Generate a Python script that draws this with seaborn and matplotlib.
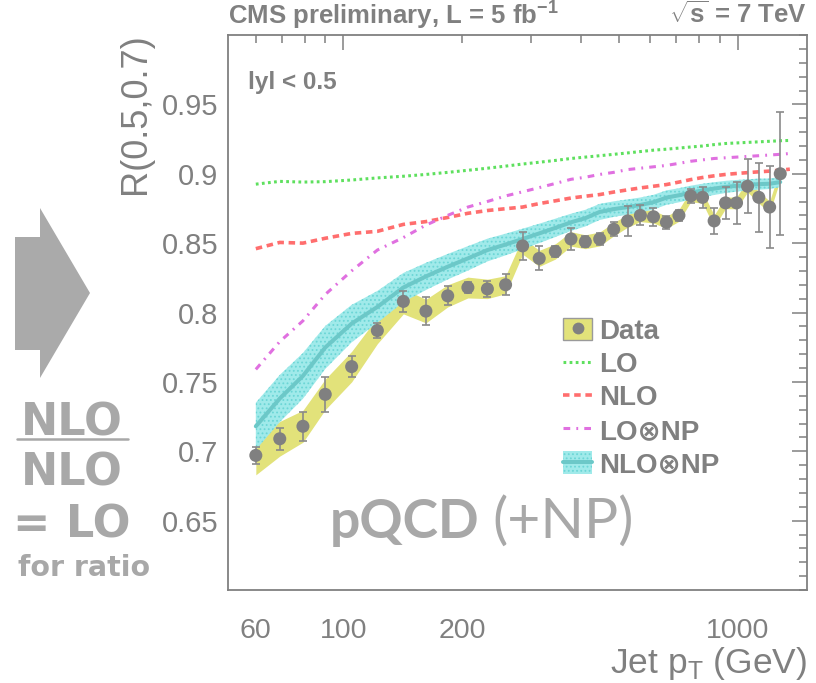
import numpy as np
import matplotlib
matplotlib.use("Agg")
import matplotlib.pyplot as plt
import seaborn as sns
from matplotlib.ticker import FixedLocator, FixedFormatter, MultipleLocator, FuncFormatter
from matplotlib.patches import Polygon, Patch
from matplotlib.lines import Line2D
from matplotlib.legend_handler import HandlerTuple

# Jet pT bin centres (GeV) and measured R(0.5,0.7), |y| < 0.5
pt = [60, 69, 79, 90, 105, 122, 142, 162, 184, 207, 232, 258, 285, 314, 345,
      378, 411, 447, 485, 526, 567, 612, 660, 710, 761, 815, 872, 932, 994,
      1060, 1132, 1206, 1283]
ratio = [0.697, 0.709, 0.718, 0.741, 0.761, 0.787, 0.808, 0.801, 0.812, 0.818,
         0.817, 0.820, 0.848, 0.839, 0.844, 0.853, 0.851, 0.853, 0.860, 0.866,
         0.870, 0.869, 0.865, 0.870, 0.884, 0.883, 0.866, 0.879, 0.879, 0.891,
         0.883, 0.876, 0.900]
stat_err = [0.0063, 0.0078, 0.0105, 0.0127, 0.0078, 0.0054, 0.0075, 0.0099,
            0.0068, 0.004, 0.006, 0.0075, 0.0099, 0.0087, 0.004, 0.008, 0.004,
            0.004, 0.005, 0.0108, 0.0072, 0.0063, 0.0045, 0.004, 0.0051, 0.0075,
            0.0093, 0.0118, 0.0152, 0.0195, 0.025, 0.0295, 0.0443]
syst_err = [0.014, 0.0125, 0.0115, 0.011, 0.011, 0.0095, 0.009, 0.0085, 0.008,
            0.0075, 0.007, 0.0065, 0.006, 0.0058, 0.0055, 0.0052, 0.005, 0.005,
            0.0048, 0.0046, 0.0045, 0.0045, 0.0044, 0.0043, 0.0042, 0.0042,
            0.0042, 0.0042, 0.0042, 0.0042, 0.0042, 0.0042, 0.0042]

# Theory predictions; the LO / NLO / LO x NP curves run one bin further
theory_pt = pt + [1357]
lo = [0.8925, 0.8945, 0.894, 0.8943, 0.8955, 0.897, 0.8982, 0.8995, 0.901,
      0.9025, 0.904, 0.9055, 0.907, 0.9083, 0.9096, 0.911, 0.912, 0.913, 0.914,
      0.915, 0.916, 0.917, 0.9177, 0.9185, 0.9193, 0.920, 0.921, 0.9218,
      0.9222, 0.9226, 0.923, 0.9234, 0.9238, 0.924]
nlo = [0.846, 0.8505, 0.850, 0.8535, 0.857, 0.8585, 0.8635, 0.8655, 0.8685,
       0.8715, 0.8735, 0.8748, 0.876, 0.8785, 0.8805, 0.8825, 0.8838, 0.885,
       0.8868, 0.8884, 0.8898, 0.891, 0.8922, 0.894, 0.8958, 0.8973, 0.8985,
       0.8995, 0.9002, 0.9008, 0.9014, 0.9019, 0.9026, 0.9033]
lo_np = [0.759, 0.779, 0.794, 0.813, 0.830, 0.845, 0.854, 0.863, 0.870, 0.876,
         0.880, 0.884, 0.887, 0.890, 0.893, 0.896, 0.8975, 0.8995, 0.901, 0.903,
         0.904, 0.905, 0.906, 0.9075, 0.909, 0.910, 0.911, 0.9115, 0.912,
         0.9125, 0.913, 0.9135, 0.914, 0.9146]
nlo_np = [0.718, 0.738, 0.7543, 0.7748, 0.792, 0.804, 0.818, 0.826, 0.833,
          0.839, 0.845, 0.849, 0.853, 0.857, 0.861, 0.865, 0.868, 0.8725,
          0.8745, 0.876, 0.8775, 0.8795, 0.8828, 0.8845, 0.8864, 0.888, 0.8893,
          0.8905, 0.8913, 0.892, 0.8925, 0.8928, 0.894]
nlo_np_unc = [0.017, 0.017, 0.0165, 0.0155, 0.0135, 0.0115, 0.0105, 0.0098,
              0.0092, 0.0088, 0.0082, 0.0078, 0.0074, 0.007, 0.0066, 0.0062,
              0.006, 0.0058, 0.0056, 0.0055, 0.0054, 0.0053, 0.0052, 0.0051,
              0.005, 0.0048, 0.0046, 0.0044, 0.0042, 0.004, 0.004, 0.0038, 0.0036]

x_major = [100, 1000]
x_minor = [60, 70, 80, 90, 200, 300, 400, 500, 600, 700, 800, 900]
x_labelled = {60: "60", 100: "100", 200: "200", 1000: "1000"}
y_ticks = [0.65, 0.7, 0.75, 0.8, 0.85, 0.9, 0.95]
y_tick_labels = ["0.65", "0.7", "0.75", "0.8", "0.85", "0.9", "0.95"]
legend_labels = ["Data", "LO", "NLO", "LO\u2297NP", "NLO\u2297NP"]

sns.set_theme(style="white")
plt.rcParams["font.family"] = ["Liberation Sans", "DejaVu Sans"]
plt.rcParams["mathtext.fontset"] = "custom"
plt.rcParams["mathtext.rm"] = "Liberation Sans"
plt.rcParams["mathtext.bf"] = "Liberation Sans:bold"
plt.rcParams["hatch.linewidth"] = 0.8

GREY = "#808080"
DECO = "#a8a8a8"
YELLOW = "#e2e27a"
CYAN_BAND = "#a0eaea"
CYAN_HATCH = "#6cd6d6"
TEAL = "#6cc8c8"
GREEN = "#5ee05e"
RED = "#ff6e6e"
MAGENTA = "#e070e0"

W, H = 816, 683
fig = plt.figure(figsize=(W / 100, H / 100), dpi=100)
ax = fig.add_axes([228 / W, 1 - 590 / H, (807 - 228) / W, (590 - 35) / H])


def fx(px):
    return px / W


def fy(py):
    return 1 - py / H


ratio_a = np.array(ratio)
syst_a = np.array(syst_err)
nlo_np_a = np.array(nlo_np)
unc_a = np.array(nlo_np_unc)

# Data systematic band
ax.fill_between(pt, ratio_a - syst_a, ratio_a + syst_a, color=YELLOW, lw=0, zorder=1)
# NLO x NP uncertainty band
ax.fill_between(pt, nlo_np_a - unc_a, nlo_np_a + unc_a, facecolor=CYAN_BAND,
                edgecolor=CYAN_HATCH, hatch="....", lw=0, zorder=2)

sns.lineplot(x=theory_pt, y=lo, ax=ax, color=GREEN, lw=2.2, estimator=None,
             sort=False, zorder=3).lines[-1].set_dashes((0.9, 1.1))
sns.lineplot(x=theory_pt, y=nlo, ax=ax, color=RED, lw=2.6, estimator=None,
             sort=False, zorder=3).lines[-1].set_dashes((1.8, 1.3))
sns.lineplot(x=theory_pt, y=lo_np, ax=ax, color=MAGENTA, lw=2.2, estimator=None,
             sort=False, zorder=3).lines[-1].set_dashes((2.2, 2.0, 0.6, 2.0))
sns.lineplot(x=pt, y=nlo_np, ax=ax, color=TEAL, lw=2.9, estimator=None,
             sort=False, zorder=4)

ax.errorbar(pt, ratio, yerr=stat_err, fmt="none", ecolor="#8a8a8a",
            elinewidth=1.2, capsize=3.0, capthick=1.2, zorder=5)
sns.scatterplot(x=pt, y=ratio, ax=ax, s=88, color=GREY, edgecolor="none",
                linewidth=0, zorder=6)

ax.set_xscale("log")
ax.set_xlim(51, 1500)
ax.set_ylim(0.6, 1.0)

ax.xaxis.set_major_locator(FixedLocator(x_major))
ax.xaxis.set_minor_locator(FixedLocator(x_minor))
ax.xaxis.set_major_formatter(FuncFormatter(lambda v, p: x_labelled.get(int(round(v)), "")))
ax.xaxis.set_minor_formatter(FuncFormatter(lambda v, p: x_labelled.get(int(round(v)), "")))
ax.yaxis.set_major_locator(FixedLocator(y_ticks))
ax.yaxis.set_major_formatter(FixedFormatter(y_tick_labels))
ax.yaxis.set_minor_locator(MultipleLocator(0.01))

ax.tick_params(axis="both", which="both", direction="in", top=True, right=True,
               color=GREY, labelcolor=GREY, labelsize=21, width=1.1)
ax.tick_params(axis="x", which="both", labelsize=20.5)
ax.tick_params(axis="both", which="major", length=11)
ax.tick_params(axis="both", which="minor", length=5.5)
ax.tick_params(axis="x", which="both", pad=20)
ax.tick_params(axis="y", which="both", pad=7)

for s in ax.spines.values():
    s.set_color(GREY)
    s.set_linewidth(1.3)
ax.grid(False)

ax.set_ylabel("R(0.5,0.7)", fontsize=26, color=GREY, loc="top")
ax.yaxis.set_label_coords(-0.13, 1.003)
ax.set_xlabel("Jet p$_{\\mathrm{T}}$ (GeV)", fontsize=25.5, color=GREY, loc="right")
ax.xaxis.set_label_coords(1.0, -0.1)

fig.text(fx(228), fy(15), "CMS preliminary, L = 5 fb$^{\\mathbf{-1}}$", fontsize=18.5,
         fontweight="bold", color=GREY, ha="left", va="center")
fig.text(fx(807), fy(15), "$\\sqrt{\\mathbf{s}}$ = 7 TeV", fontsize=18.5,
         fontweight="bold", color=GREY, ha="right", va="center")
ax.text(0.034, 0.915, "lyl < 0.5", transform=ax.transAxes, fontsize=17.5,
        fontweight="bold", color=GREY, ha="left", va="center")

# Legend
data_handle = (Patch(facecolor=YELLOW, edgecolor="#9a9a9a", lw=1.0),
               Line2D([], [], ls="none", marker="o", ms=8.5, color=GREY, mec="none"))
lo_handle = Line2D([], [], color=GREEN, lw=2.2, dashes=(0.9, 1.1))
nlo_handle = Line2D([], [], color=RED, lw=2.6, dashes=(1.8, 1.3))
lonp_handle = Line2D([], [], color=MAGENTA, lw=2.2, dashes=(2.2, 2.0, 0.6, 2.0))
nlonp_handle = (Patch(facecolor=CYAN_BAND, edgecolor=CYAN_HATCH, hatch="....", lw=0),
                Line2D([], [], color=TEAL, lw=2.9))
leg = fig.legend([data_handle, lo_handle, nlo_handle, lonp_handle, nlonp_handle],
                 legend_labels, loc="upper left",
                 bbox_to_anchor=(fx(563), fy(318)), bbox_transform=fig.transFigure,
                 frameon=False, borderpad=0, borderaxespad=0,
                 handlelength=1.05, handleheight=0.85, handletextpad=0.25,
                 labelspacing=0.24,
                 prop={"family": ["Liberation Sans", "DejaVu Sans"], "weight": "bold", "size": 20},
                 labelcolor=GREY,
                 handler_map={tuple: HandlerTuple(ndivide=1, pad=0)})

# pQCD annotation
fig.text(fx(330), fy(538), "pQCD", fontsize=38.5, fontfamily="Lato", fontweight="bold",
         color=DECO, ha="left", va="baseline")
fig.text(fx(492), fy(538), "(+NP)", fontsize=41, fontfamily="Lato", fontweight="normal",
         color=DECO, ha="left", va="baseline")

# Left-hand side arrow and ratio note
arrow_px = [(15, 237), (40, 237), (40, 208), (90, 293), (40, 378), (40, 350), (15, 350)]
fig.add_artist(Polygon([(fx(x), fy(y)) for x, y in arrow_px], closed=True,
                       transform=fig.transFigure, facecolor="#aaaaaa", edgecolor="none"))
note_font = dict(fontfamily="DejaVu Sans", fontweight="bold", color=DECO,
                 ha="center", va="baseline")
fig.text(fx(72), fy(435), "NLO", fontsize=32, **note_font)
fig.add_artist(Line2D([fx(17), fx(128)], [fy(438.5), fy(438.5)], transform=fig.transFigure,
                      color=DECO, lw=1.8))
fig.text(fx(72), fy(486), "NLO", fontsize=32, **note_font)
fig.text(fx(72), fy(537), "= LO", fontsize=32, **note_font)
fig.text(fx(84), fy(576), "for ratio", fontsize=20.5, **note_font)

fig.savefig("out.png", dpi=100)
